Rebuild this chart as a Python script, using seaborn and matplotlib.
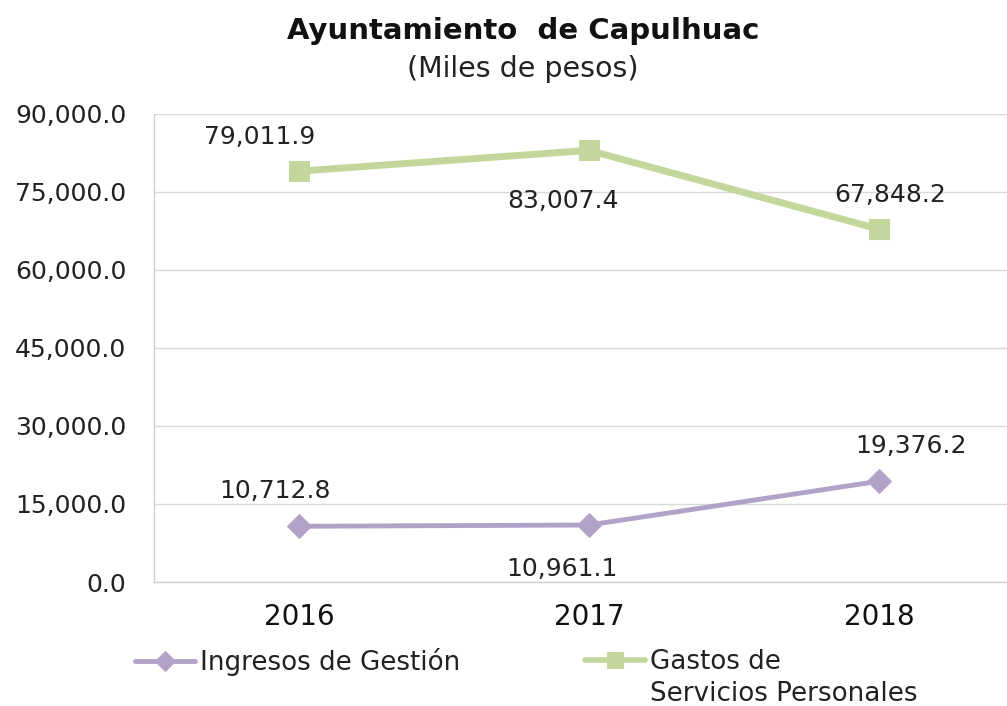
import pandas as pd
import seaborn as sns
import matplotlib
matplotlib.use("Agg")
import matplotlib.pyplot as plt
from matplotlib.ticker import FuncFormatter

years = ["2016", "2017", "2018"]
ingresos = [10712.8, 10961.1, 19376.2]
gastos = [79011.9, 83007.4, 67848.2]
series_names = ["Ingresos de Gestión", "Gastos de Servicios Personales"]

df = pd.DataFrame({"Año": years * 2,
                   "Valor": ingresos + gastos,
                   "Serie": [series_names[0]] * 3 + [series_names[1]] * 3})

sns.set_style("white")
plt.rcParams["font.family"] = ["DejaVu Sans"]

purple = "#B3A2C7"
green = "#C3D69B"
txt = "#222222"

fig = plt.figure(figsize=(10.07, 7.06), dpi=100)
ax = fig.add_axes([154 / 1007, 124 / 706, 853 / 1007, 468 / 706])

sns.lineplot(data=df[df["Serie"] == series_names[0]], x="Año", y="Valor", ax=ax,
             color=purple, linewidth=3.5, marker="D", markersize=12,
             markeredgecolor=purple, label=series_names[0])
sns.lineplot(data=df[df["Serie"] == series_names[1]], x="Año", y="Valor", ax=ax,
             color=green, linewidth=5, marker="s", markersize=15,
             markeredgecolor=green, label=series_names[1])

ax.set_xlim(-0.5, -0.5 + 853 / 290)
ax.set_ylim(0, 90000)
ax.set_yticks(range(0, 90001, 15000))
ax.yaxis.set_major_formatter(FuncFormatter(lambda v, p: f"{v:,.1f}"))
ax.grid(axis="y", color="#D9D9D9", linewidth=1)
ax.set_xlabel("")
ax.set_ylabel("")
for s in ["top", "right"]:
    ax.spines[s].set_visible(False)
for s in ["left", "bottom"]:
    ax.spines[s].set_color("#D0D0D0")
    ax.spines[s].set_linewidth(1)
ax.tick_params(axis="y", labelsize=18, pad=20, length=0, colors=txt)
ax.tick_params(axis="x", labelsize=20, pad=15, length=0, colors="#111111")

# data labels (offsets in pixels)
offsets_i = [(-24, 35), (-27, -44), (32, 35)]
offsets_g = [(-39, 34), (-26, -51), (11, 34)]
for i, (vi, vg) in enumerate(zip(ingresos, gastos)):
    ax.annotate(f"{vi:,.1f}", (i, vi), xytext=offsets_i[i], textcoords="offset pixels",
                ha="center", va="center", fontsize=18, color=txt)
    ax.annotate(f"{vg:,.1f}", (i, vg), xytext=offsets_g[i], textcoords="offset pixels",
                ha="center", va="center", fontsize=18, color=txt)

# legend: two entries placed separately, second label wraps onto two lines
ax.get_legend().remove()
h, l = ax.get_legend_handles_labels()
leg_y = 1 - 662 / 706
leg1 = fig.legend([h[0]], [l[0]], loc="center left", bbox_to_anchor=(135 / 1007, leg_y),
                  frameon=False, fontsize=18.8, handlelength=2.3, handletextpad=0.2,
                  borderaxespad=0, borderpad=0, labelcolor=txt)
leg2 = fig.legend([h[1]], ["Gastos de"], loc="center left", bbox_to_anchor=(585 / 1007, leg_y),
                  frameon=False, fontsize=18.8, handlelength=2.3, handletextpad=0.2,
                  borderaxespad=0, borderpad=0, labelcolor=txt)
leg1.get_lines()[0].set_markersize(10)
leg2.get_lines()[0].set_markersize(12)
leg2.get_lines()[0].set_linewidth(4)
fig.text(650 / 1007, 1 - 694 / 706, "Servicios Personales", ha="left", va="center",
         fontsize=18.8, color=txt)

fig.text(523 / 1007, 1 - 31 / 706, "Ayuntamiento  de Capulhuac", ha="center", va="center",
         fontsize=21, fontweight="bold", color="#111111")
fig.text(523 / 1007, 1 - 69 / 706, "(Miles de pesos)", ha="center", va="center",
         fontsize=20.5, color=txt)

fig.savefig("out.png", dpi=100)
